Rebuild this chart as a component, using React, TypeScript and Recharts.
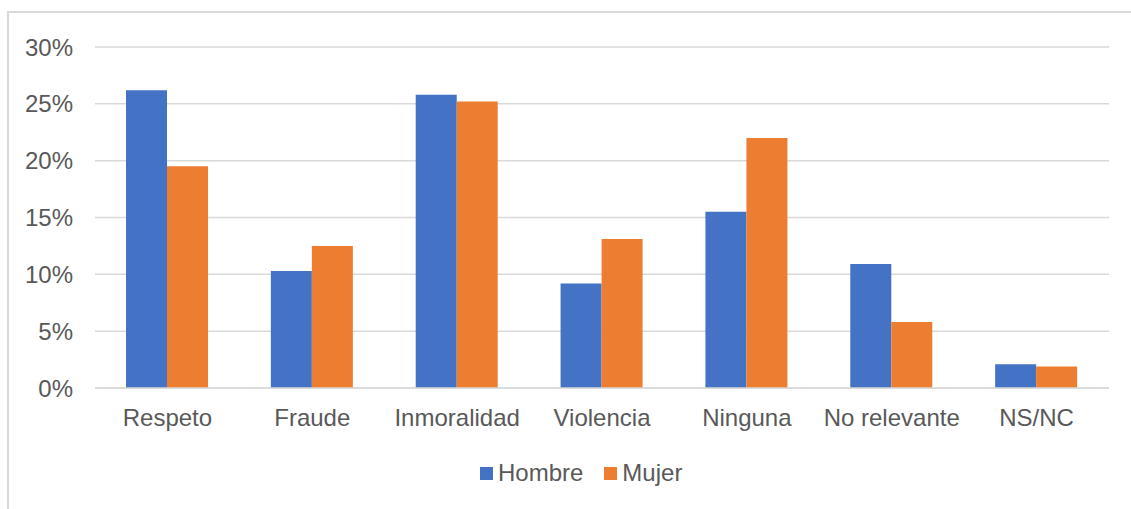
import React from "react";
import { BarChart, Bar, XAxis, YAxis, CartesianGrid, Legend } from "recharts";

const categories = ["Respeto", "Fraude", "Inmoralidad", "Violencia", "Ninguna", "No relevante", "NS/NC"];
const hombre = [26.2, 10.3, 25.8, 9.2, 15.5, 10.9, 2.1];
const mujer = [19.5, 12.5, 25.2, 13.1, 22.0, 5.8, 1.9];
const yTicks = [0, 5, 10, 15, 20, 25, 30];

const seriesNames = { hombre: "Hombre", mujer: "Mujer" };
const colors = { hombre: "#4472C4", mujer: "#ED7D31" };

const data = categories.map((name, i) => ({ name, hombre: hombre[i], mujer: mujer[i] }));

const FONT = "'Liberation Sans', Arial, sans-serif";
const TEXT = "#595959";
const GRID = "#d9d9d9";

const LegendContent = () => (
  <div
    style={{
      height: 30,
      display: "flex",
      alignItems: "center",
      paddingLeft: 480,
      fontFamily: FONT,
      fontSize: 24,
      color: TEXT,
    }}
  >
    {(["hombre", "mujer"] as const).map((k, i) => (
      <div key={k} style={{ display: "flex", alignItems: "center", marginLeft: i === 0 ? 0 : 21 }}>
        <span style={{ width: 13, height: 13, background: colors[k], display: "inline-block", marginRight: 5 }} />
        <span>{seriesNames[k]}</span>
      </div>
    ))}
  </div>
);

export default function App() {
  return (
    <div style={{ position: "absolute", left: 0, top: 0, width: 1131, height: 509, background: "#fff" }}>
      <div
        style={{
          position: "absolute",
          left: 7,
          top: 11,
          width: 1124,
          height: 498,
          borderTop: `2px solid ${GRID}`,
          borderLeft: `2px solid ${GRID}`,
          boxSizing: "border-box",
        }}
      />
      <div style={{ position: "absolute", left: 0, top: 0 }}>
        <BarChart
          width={1131}
          height={509}
          data={data}
          margin={{ top: 47, right: 22, left: 15, bottom: 21 }}
          barCategoryGap={31}
          barGap={0}
        >
          <CartesianGrid vertical={false} stroke={GRID} strokeWidth={1.5} />
          <XAxis
            dataKey="name"
            height={70}
            tickLine={false}
            tickSize={0}
            tickMargin={21}
            axisLine={{ stroke: GRID, strokeWidth: 1.5 }}
            tick={{ fill: TEXT, fontSize: 24, fontFamily: FONT }}
            interval={0}
          />
          <YAxis
            width={80}
            domain={[0, 30]}
            ticks={yTicks}
            tickFormatter={(v: number) => `${v}%`}
            axisLine={false}
            tickLine={false}
            tickSize={0}
            tickMargin={22}
            tick={{ fill: TEXT, fontSize: 24, fontFamily: FONT }}
          />
          <Legend verticalAlign="bottom" content={<LegendContent />} wrapperStyle={{ left: 0, width: 1131 }} />
          <Bar dataKey="hombre" name={seriesNames.hombre} fill={colors.hombre} isAnimationActive={false} />
          <Bar dataKey="mujer" name={seriesNames.mujer} fill={colors.mujer} isAnimationActive={false} />
        </BarChart>
      </div>
    </div>
  );
}
